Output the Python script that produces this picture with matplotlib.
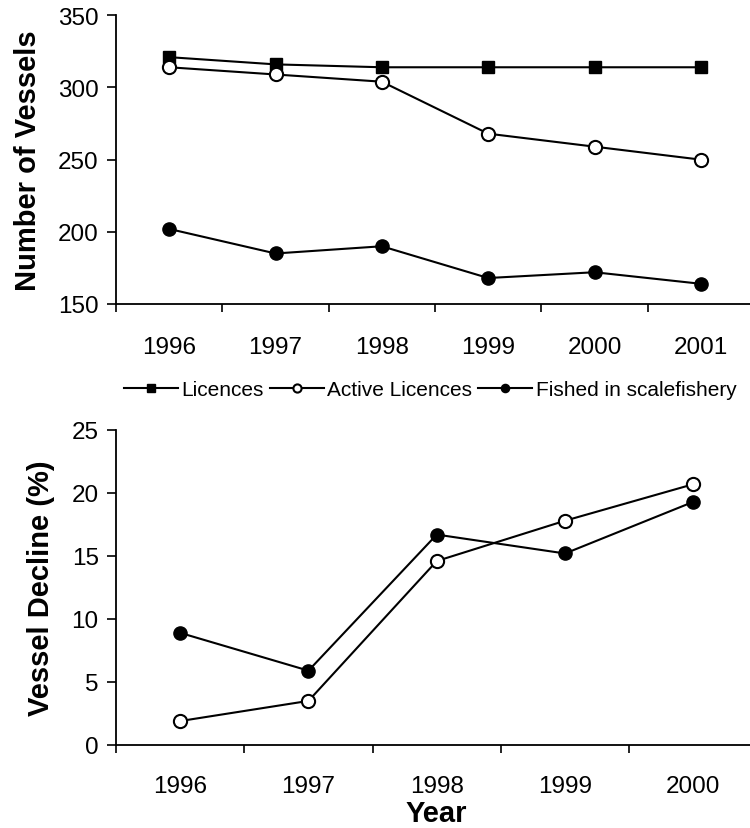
import matplotlib
matplotlib.use("Agg")
import matplotlib.pyplot as plt
from matplotlib.ticker import FixedLocator, NullFormatter

plt.rcParams['font.family'] = ['Liberation Sans', 'DejaVu Sans']

# Vessel counts by year
years_top = ['1996', '1997', '1998', '1999', '2000', '2001']
licences = [321, 316, 314, 314, 314, 314]
active_licences = [314, 309, 304, 268, 259, 250]
fished_scalefishery = [202, 185, 190, 168, 172, 164]

# Percentage decline by year
years_bottom = ['1996', '1997', '1998', '1999', '2000']
decline_active = [1.9, 3.5, 14.6, 17.8, 20.7]
decline_fished = [8.9, 5.9, 16.7, 15.2, 19.3]

W, H = 750, 829
fig = plt.figure(figsize=(W / 100, H / 100), dpi=100)


def px_axes(left, top, right, bottom):
    return fig.add_axes([left / W, 1 - bottom / H, (right - left) / W, (bottom - top) / H])


ax1 = px_axes(116, 16.3, 754, 305)
ax2 = px_axes(116, 431, 757.5, 746)

lw = 1.5
ms = 9.5
tick_fs = 17.5
label_fs = 21


def style_category_axis(ax, cats, xpad):
    n = len(cats)
    ax.set_xlim(-0.5, n - 0.5)
    ax.xaxis.set_major_locator(FixedLocator([i - 0.5 for i in range(n + 1)]))
    ax.xaxis.set_major_formatter(NullFormatter())
    ax.xaxis.set_minor_locator(FixedLocator(list(range(n))))
    ax.set_xticklabels(cats, minor=True)
    ax.tick_params(axis='x', which='major', direction='out', length=6, width=1.2)
    ax.tick_params(axis='x', which='minor', length=0, pad=xpad, labelsize=tick_fs)
    ax.tick_params(axis='y', direction='out', length=6.5, width=1.2, pad=6, labelsize=tick_fs)
    for side in ('top', 'right'):
        ax.spines[side].set_visible(False)
    for side in ('left', 'bottom'):
        ax.spines[side].set_linewidth(1.3)


x_top = list(range(len(years_top)))
ax1.plot(x_top, licences, color='black', lw=lw, marker='s', ms=ms - 0.5,
         mfc='black', mec='black', label='Licences', clip_on=False)
ax1.plot(x_top, active_licences, color='black', lw=lw, marker='o', ms=ms,
         mfc='white', mec='black', mew=1.5, label='Active Licences', clip_on=False)
ax1.plot(x_top, fished_scalefishery, color='black', lw=lw, marker='o', ms=ms,
         mfc='black', mec='black', label='Fished in scalefishery', clip_on=False)
ax1.set_ylim(150, 350)
ax1.set_yticks([150, 200, 250, 300, 350])
style_category_axis(ax1, years_top, 23)
ax1.set_ylabel('Number of Vessels', fontsize=label_fs, fontweight='bold')
ax1.yaxis.set_label_coords((42 - 116) / (754 - 116), 0.5)

x_bot = list(range(len(years_bottom)))
ax2.plot(x_bot, decline_fished, color='black', lw=lw, marker='o', ms=ms,
         mfc='black', mec='black', clip_on=False)
ax2.plot(x_bot, decline_active, color='black', lw=lw, marker='o', ms=ms,
         mfc='white', mec='black', mew=1.5, clip_on=False)
ax2.set_ylim(0, 25)
ax2.set_yticks([0, 5, 10, 15, 20, 25])
style_category_axis(ax2, years_bottom, 21.5)
ax2.set_ylabel('Vessel Decline (%)', fontsize=label_fs, fontweight='bold')
ax2.yaxis.set_label_coords((55 - 116) / (757.5 - 116), 0.5)
ax2.set_xlabel('Year', fontsize=label_fs, fontweight='bold', labelpad=1.5)

handles, labels = ax1.get_legend_handles_labels()
fig.legend(handles, labels, loc='center', bbox_to_anchor=(430 / W, 1 - 391 / H),
           ncol=3, frameon=False, fontsize=15, markerscale=0.62,
           handlelength=2.6, handletextpad=0.15, columnspacing=0.3,
           borderpad=0, borderaxespad=0)

fig.savefig('out.png', dpi=100, facecolor='white')
